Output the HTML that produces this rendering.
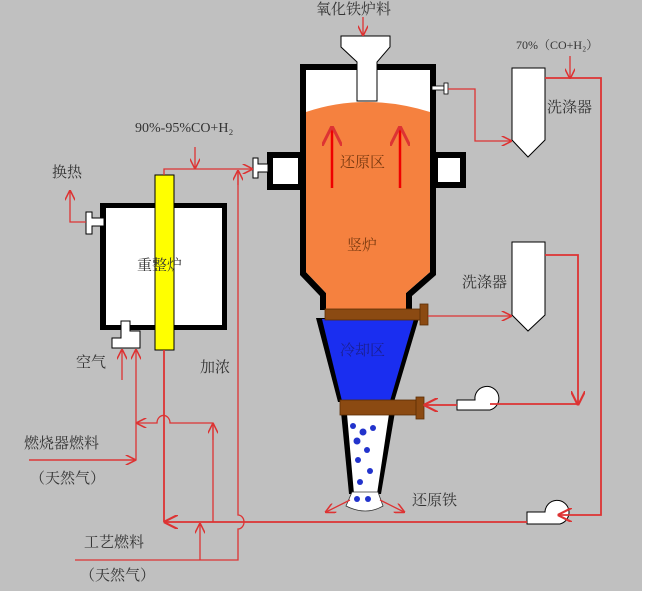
<!DOCTYPE html>
<html><head><meta charset="utf-8"><style>
html,body{margin:0;padding:0;background:#fff}
svg{display:block}
text{font-family:"Liberation Serif","Noto Serif CJK SC","Noto Sans CJK SC",serif;fill:#333}
</style></head><body>
<svg width="645" height="595" viewBox="0 0 645 595" xmlns="http://www.w3.org/2000/svg">
<defs>
<marker id="a" viewBox="0 0 10 10" refX="9" refY="5" markerWidth="8" markerHeight="8" orient="auto"><path d="M0,0 L10,5 L0,10" fill="none" stroke="#d33" stroke-width="1.5"/></marker>
</defs>
<rect x="0" y="0" width="642" height="591" fill="#c0c0c0"/>
<!-- shaft furnace -->
<path d="M300,64 L436,64 L436,275 L412,296 L412,310 L320,310 L320,296 L300,275 Z" fill="#000"/>
<path d="M306,70 L430,70 L430,272 L406,293 L406,312 L326,312 L326,293 L306,272 Z" fill="#fff"/>
<path d="M306,112 Q365,92 430,112 L430,272 L406,293 L406,312 L326,312 L326,293 L306,272 Z" fill="#f5813f"/>
<!-- side boxes -->
<rect x="267" y="152" width="33" height="38" fill="#000"/><rect x="273" y="158" width="25" height="26" fill="#fff"/>
<rect x="436" y="152" width="30" height="36" fill="#000"/><rect x="438" y="158" width="22" height="24" fill="#fff"/>
<path d="M253,158 h5 v6 h10 v8 h-10 v6 h-5 z" fill="#fff" stroke="#000" stroke-width="1"/>
<!-- hopper -->
<path d="M341,36 L390,36 L390,47 L377,62 L377,101 L357,101 L357,62 L341,47 Z" fill="#fff" stroke="#000" stroke-width="1"/>
<!-- top tap -->
<rect x="432" y="86" width="12" height="4" fill="#fff" stroke="#000" stroke-width="0.8"/>
<rect x="444" y="83" width="4" height="11" fill="#fff" stroke="#000" stroke-width="0.8"/>
<!-- blue cooling cone -->
<path d="M316,318 L419,318 L394,402 L338,402 Z" fill="#000"/>
<path d="M322,319 L414,319 L390,401 L342,401 Z" fill="#1a2ef0"/>
<rect x="325" y="309" width="96" height="11" fill="#8b4a12" stroke="#5a2d05" stroke-width="0.8"/>
<rect x="420" y="304" width="8" height="21" fill="#8b4a12" stroke="#5a2d05" stroke-width="0.8"/>
<!-- lower tube -->
<path d="M341,412 L395,412 L381,494 L349,494 Z" fill="#000"/>
<path d="M347,414 L389,414 L377,494 L354,494 Z" fill="#fff"/>
<path d="M352,492 L378,492 L383,506 Q366,516 346,506 Z" fill="#fff" stroke="#333" stroke-width="0.8"/>
<rect x="340" y="400" width="80" height="15" fill="#8b4a12" stroke="#5a2d05" stroke-width="0.8"/>
<rect x="416" y="397" width="8" height="22" fill="#8b4a12" stroke="#5a2d05" stroke-width="0.8"/>
<g fill="#2233cc">
<circle cx="353" cy="426" r="3"/><circle cx="363" cy="432" r="3.5"/><circle cx="373" cy="428" r="3"/><circle cx="357" cy="441" r="3.5"/><circle cx="367" cy="450" r="3"/><circle cx="358" cy="460" r="3"/><circle cx="370" cy="471" r="3"/><circle cx="360" cy="482" r="3"/><circle cx="357" cy="499" r="3"/><circle cx="368" cy="499" r="3"/>
</g>
<!-- scrubbers -->
<path d="M512,68 L545,68 L545,140 L528,157 L512,140 Z" fill="#fff" stroke="#000" stroke-width="1"/>
<path d="M512,242 L545,242 L545,315 L528,331 L512,315 Z" fill="#fff" stroke="#000" stroke-width="1"/>
<!-- reformer -->
<rect x="100" y="203" width="127" height="127" fill="#000"/>
<rect x="106" y="208" width="116" height="117" fill="#fff"/>
<path d="M86,212 h6 v6 h12 v8 h-12 v8 h-6 z" fill="#fff" stroke="#000" stroke-width="1"/>
<path d="M121,321 h9 v10 h10 v17 h-28 v-10 h9 z" fill="#fff" stroke="#000" stroke-width="1"/>
<rect x="155" y="175" width="19" height="175" fill="#ffff00" stroke="#000" stroke-width="1"/>
<!-- fans -->
<path d="M457,400 L475,400 A12,12 0 1 1 490,410 L457,410 Z" fill="#fff" stroke="#000" stroke-width="1"/>
<path d="M527,512 L545,512 A12,12 0 1 1 560,524 L527,524 Z" fill="#fff" stroke="#000" stroke-width="1"/>
<!-- red lines -->
<g fill="none" stroke="#d33" stroke-width="1.3">
<line x1="363" y1="17" x2="363" y2="35" marker-end="url(#a)"/>
<line x1="332" y1="188" x2="332" y2="128" stroke-width="2.5" stroke="#e00" marker-end="url(#a)"/>
<line x1="400" y1="188" x2="400" y2="128" stroke-width="2.5" stroke="#e00" marker-end="url(#a)"/>
<polyline points="448,89 475,89 475,141 511,141" marker-end="url(#a)"/>
<line x1="428" y1="316" x2="511" y2="316" marker-end="url(#a)"/>
<line x1="570" y1="56" x2="570" y2="78" marker-end="url(#a)"/>
<polyline points="545,78 601,78 601,515 559,515" stroke-width="1.8" marker-end="url(#a)"/>
<polyline points="545,255 578,255 578,404" stroke-width="1.8" marker-end="url(#a)"/>
<line x1="578" y1="404" x2="490" y2="404" stroke-width="1.8"/>
<line x1="457" y1="405" x2="425" y2="405" stroke-width="1.8" marker-end="url(#a)"/>
<polyline points="164,175 164,169 252,169" marker-end="url(#a)"/>
<line x1="195" y1="147" x2="195" y2="168" marker-end="url(#a)"/>
<polyline points="86,222 70,222 70,191" marker-end="url(#a)"/>
<line x1="122" y1="380" x2="122" y2="350" marker-end="url(#a)"/>
<polyline points="29,460 136,460 136,350" marker-end="url(#a)"/>
<line x1="29" y1="460" x2="135" y2="460" marker-end="url(#a)"/>
<path d="M213,522 L213,423 L170,423 A6,7 0 0 0 157,423 L137,423" marker-end="url(#a)"/>
<line x1="213" y1="440" x2="213" y2="424" marker-end="url(#a)"/>
<polyline points="164,350 164,522" stroke-width="1.8"/>
<line x1="527" y1="522" x2="165" y2="522" stroke-width="1.8" marker-end="url(#a)"/>
<path d="M75,560 L238,560 L238,529 A6,7 0 0 0 238,515 L238,170" />
<line x1="238" y1="185" x2="238" y2="171" marker-end="url(#a)"/>
<line x1="200" y1="560" x2="200" y2="524" marker-end="url(#a)"/>
<line x1="350" y1="500" x2="326" y2="512" marker-end="url(#a)"/>
<line x1="380" y1="500" x2="404" y2="512" marker-end="url(#a)"/>
</g>
<!-- labels -->
<g font-size="15">
<text x="316" y="14">氧化铁炉料</text>
<text x="516" y="49" font-size="12">70%（CO+H₂）</text>
<text x="135" y="132" font-size="14">90%-95%CO+H₂</text>
<text x="547" y="112">洗涤器</text>
<text x="462" y="287">洗涤器</text>
<text x="340" y="167" fill="#7a3a10" style="fill:#7a3a10">还原区</text>
<text x="347" y="250" style="fill:#7a3a10">竖炉</text>
<text x="340" y="355" style="fill:#1a1f90">冷却区</text>
<text x="412" y="505">还原铁</text>
<text x="137" y="270">重整炉</text>
<text x="52" y="177">换热</text>
<text x="76" y="367">空气</text>
<text x="200" y="372">加浓</text>
<text x="24" y="448">燃烧器燃料</text>
<text x="30" y="483">（天然气）</text>
<text x="84" y="547">工艺燃料</text>
<text x="80" y="580">（天然气）</text>
</g>
</svg>
</body></html>
